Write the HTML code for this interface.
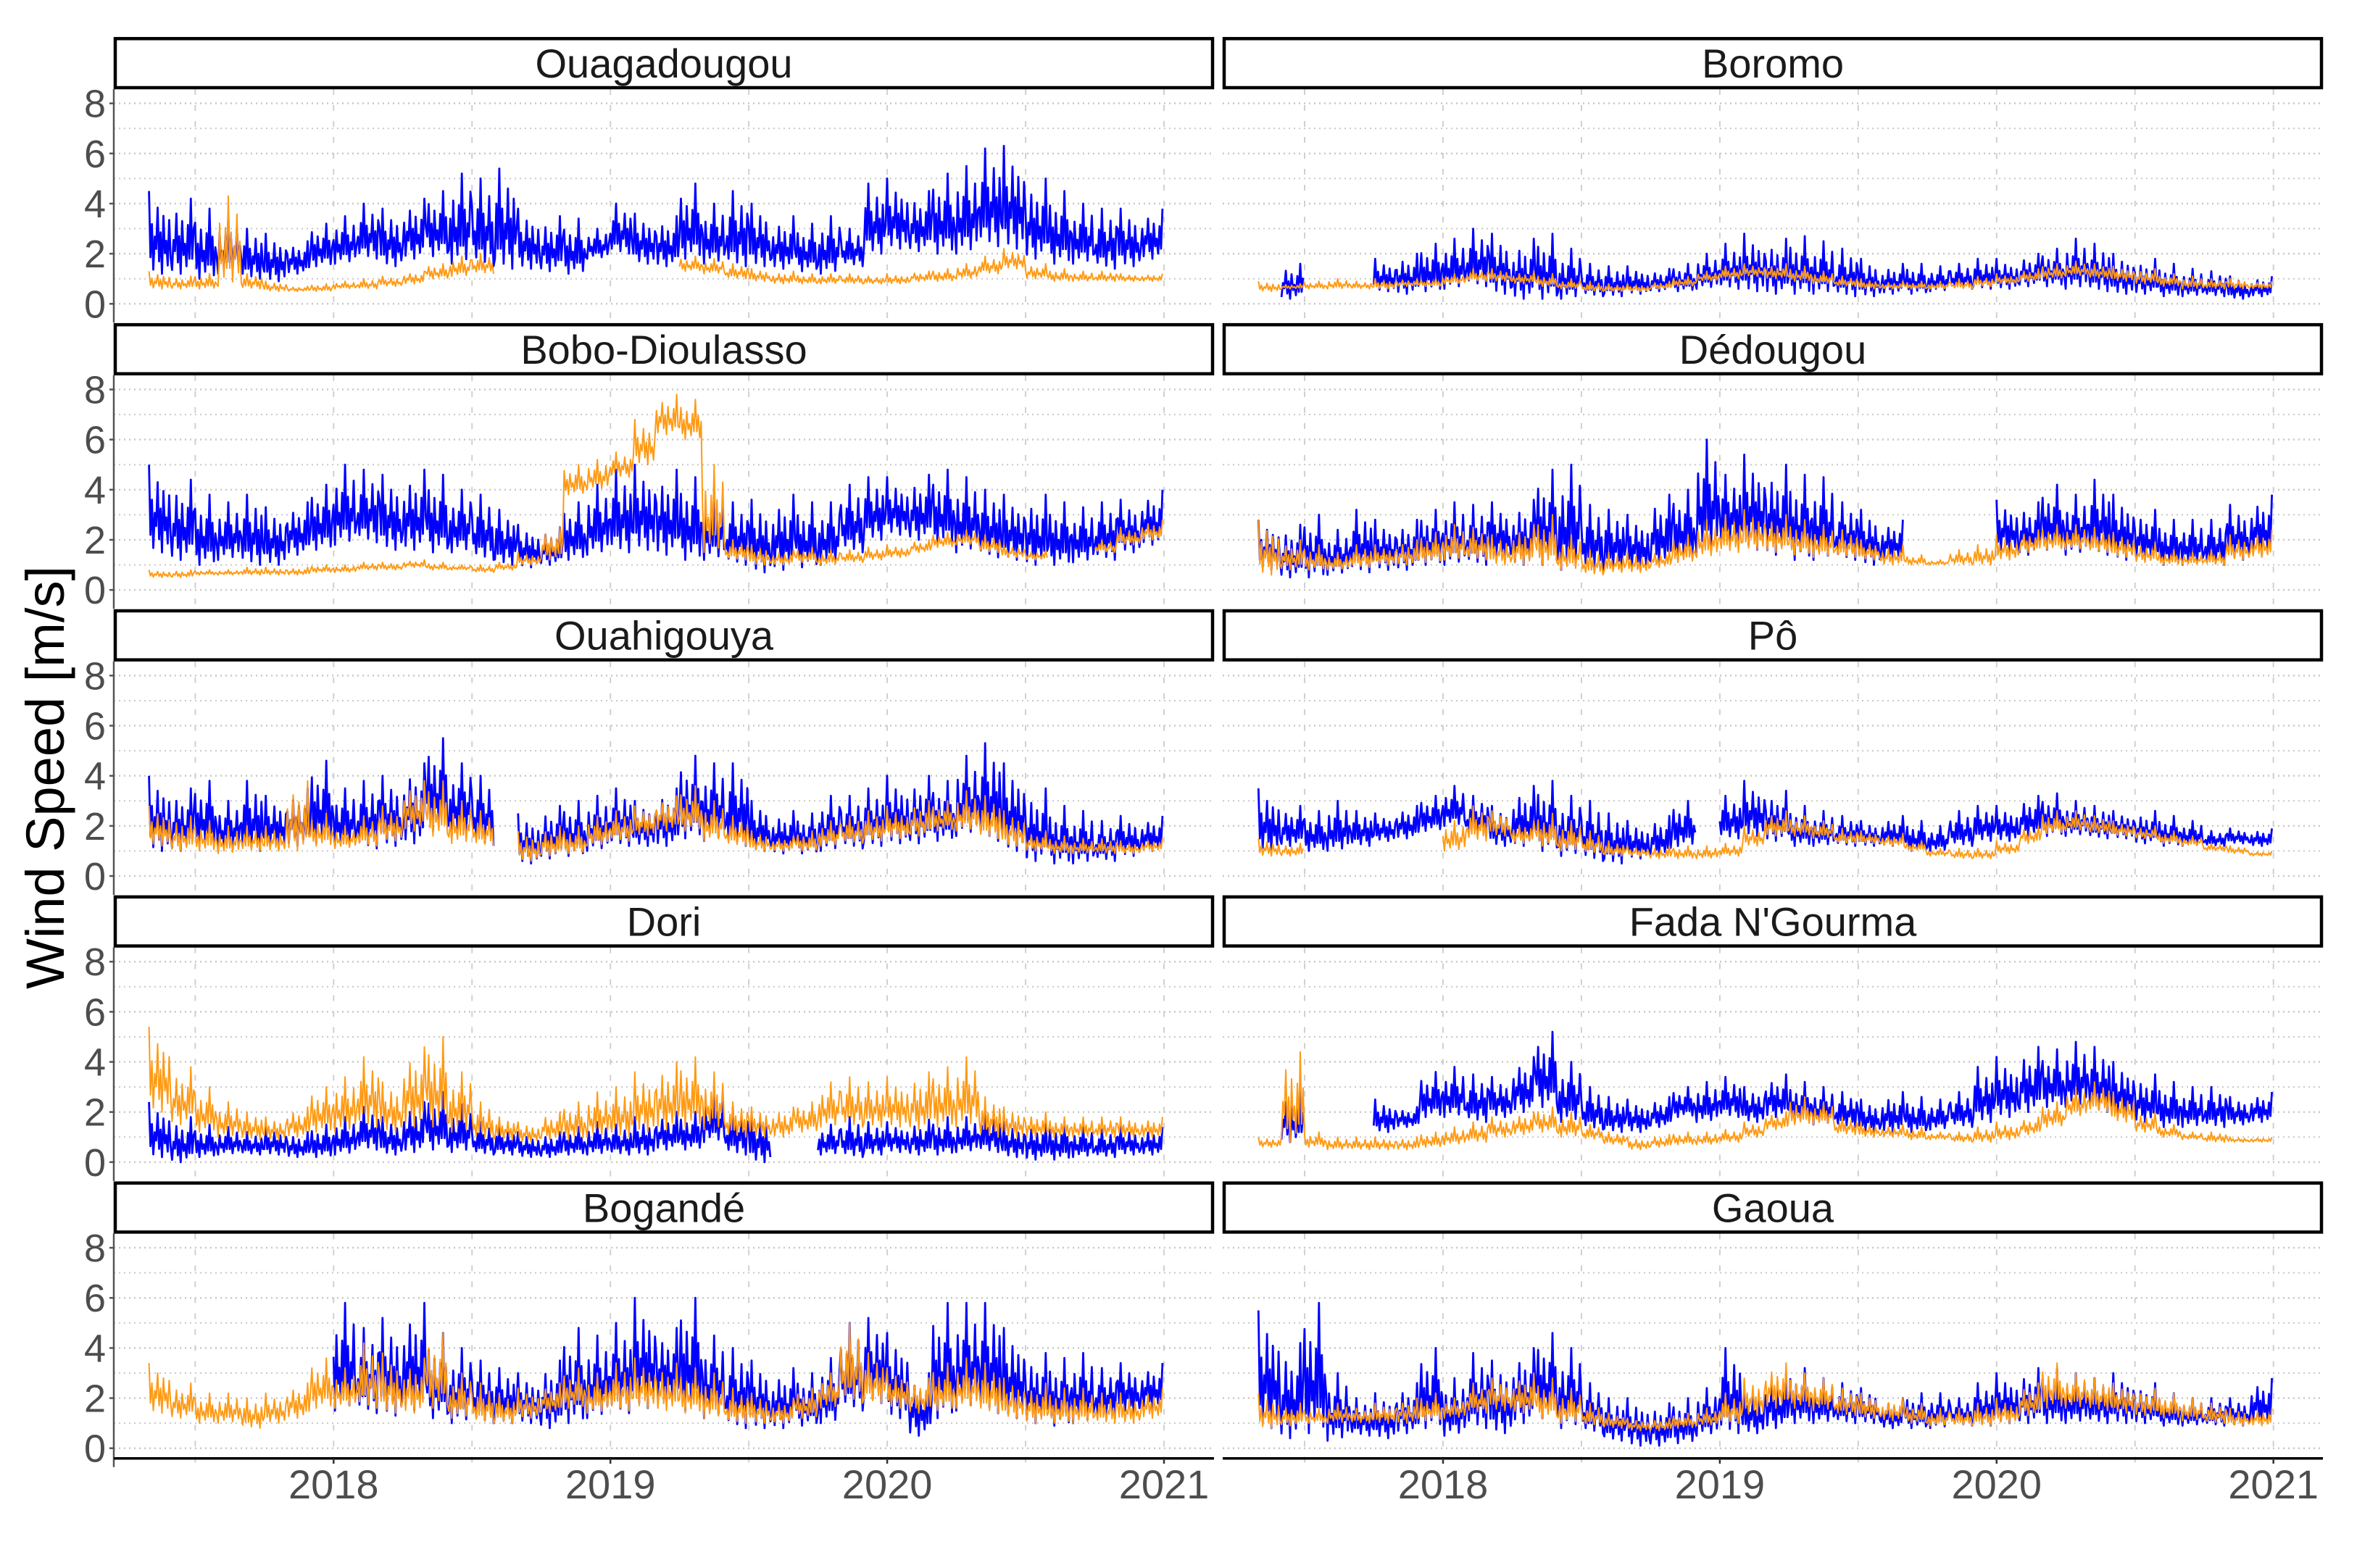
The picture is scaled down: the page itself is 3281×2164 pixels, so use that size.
<!DOCTYPE html>
<html><head><meta charset="utf-8"><style>
html,body{margin:0;padding:0;background:#fff;}
svg{display:block;font-family:"Liberation Sans",Arial,sans-serif;}
</style></head><body>
<svg id="chart" width="3281" height="2164" viewBox="0 0 3281 2164" xmlns="http://www.w3.org/2000/svg">
<rect width="3281" height="2164" fill="#fff"/>
<text x="0" y="0" transform="translate(88,1073) rotate(-90)" text-anchor="middle" font-size="74" fill="#000">Wind Speed [m/s]</text>
<g id="panels"></g>
</svg>
<script>
const stations = ["Ouagadougou","Boromo","Bobo-Dioulasso","Dédougou","Ouahigouya","Pô","Dori","Fada N'Gourma","Bogandé","Gaoua"];
const yTicks = [0,2,4,6,8];
const xTickLabels = ["2018","2019","2020","2021"];
const xTickYears = [2018,2019,2020,2021];
const startYear = 2017.333;
const n=null;
const blueHi = [
[4.5,4.2,3.8,3.5,3.0,2.8,2.5, 3.2,3.5,4.0,3.8,4.2,4.5,5.2,5.0,5.4,3.8,3.5,3.4, 3.0,4.0,3.6,3.5,4.8,4.0,4.5,4.0,3.5,3.2,3.5,3.0, 4.8,5.0,4.5,5.2,5.5,6.2,6.3,5.0,4.5,4.0,3.8,3.8,3.8],
[n,1.6,n,n,n,1.8,2.0, 2.4,2.6,3.0,2.8,2.6,2.8,2.2,1.6,1.5,1.5,1.4,1.6, 2.0,2.4,2.8,2.6,2.7,2.5,2.2,1.8,1.6,1.6,1.5,1.6, 1.8,1.8,2.0,2.2,2.6,2.4,2.0,1.8,1.6,1.4,1.3,1.1,1.1],
[5.0,4.4,3.8,3.5,3.8,3.3,3.5, 4.2,5.0,4.8,4.6,4.8,4.6,4.0,3.8,3.2,2.6,2.5,3.5, 4.2,4.8,5.0,4.8,4.5,4.0,3.5,3.6,3.8,3.5,3.5,4.2, 4.5,4.5,4.6,4.8,4.5,4.0,3.8,3.8,3.5,3.3,3.5,3.6,4.0],
[2.8,2.6,3.0,2.4,3.2,2.8,2.8, 3.2,3.5,3.4,3.5,3.6,4.8,5.0,3.4,3.2,3.0,3.8,4.0, 6.0,4.6,5.4,5.0,4.6,4.5,3.5,3.2,2.8,n,n,n, n,3.6,3.5,4.2,3.8,4.4,3.8,3.2,2.8,2.8,2.8,3.4,3.8],
[4.0,3.5,3.8,3.0,3.8,3.2,3.5, 4.6,3.5,3.8,4.0,4.5,5.5,4.5,4.0,n,2.5,2.8,3.0, 3.2,3.5,3.0,3.5,4.8,4.5,4.5,3.0,2.6,2.5,3.2,3.2, 3.5,4.0,4.0,3.8,4.8,5.3,4.5,3.5,2.8,2.6,2.2,2.4,2.4],
[3.5,2.8,2.6,3.0,2.6,2.5,2.8, 3.2,3.6,3.2,2.8,3.6,3.8,3.2,3.0,2.5,2.2,2.4,3.0, n,3.2,3.8,3.4,2.8,2.6,2.4,2.2,2.4,2.2,2.0,2.6, 2.8,2.8,3.2,3.3,3.0,2.8,2.6,2.6,2.4,2.2,1.8,1.9,1.9],
[2.4,1.8,1.5,1.4,1.2,1.4,1.2, 1.5,1.8,2.2,1.8,2.4,2.8,2.3,1.6,1.4,1.2,1.2,1.4, 1.6,1.5,1.8,2.0,2.0,2.8,2.2,2.0,n,n,1.5,1.8, 1.6,1.6,1.7,1.8,1.8,2.0,1.6,1.6,1.6,1.4,1.3,1.4,1.4],
[n,2.8,n,n,n,2.5,2.2, 3.6,3.8,3.5,3.4,4.2,5.2,4.0,3.0,2.6,2.5,2.6,3.0, 3.2,3.4,3.0,3.5,3.2,3.0,2.8,2.5,2.8,2.6,2.5,2.8, 3.8,4.2,4.6,4.5,4.8,4.6,4.0,3.5,3.2,3.0,3.0,2.6,2.8],
[n,n,n,n,n,n,n, n,5.8,4.8,5.2,5.8,4.6,4.0,3.5,3.2,3.0,3.5,4.8, 4.5,5.0,6.0,4.8,6.0,4.5,4.0,3.5,3.2,3.0,3.6,5.0, 5.2,4.6,3.0,5.8,5.8,5.8,4.8,3.8,3.6,3.8,3.2,3.4,3.4],
[5.5,4.2,5.8,3.0,2.0,2.2,2.6, 4.0,2.8,3.8,3.5,4.0,4.6,4.0,2.6,2.0,2.0,1.8,2.0, 2.4,4.0,2.4,3.0,3.2,2.8,2.6,2.4,2.0,2.2,2.2,2.0, 2.6,3.0,3.2,3.2,3.0,2.8,3.0,2.6,2.2,2.0,2.0,2.0,2.8]
];
const blueLo = [
[1.2,1.2,1.0,1.2,1.0,0.9,1.2, 1.5,1.6,1.8,1.5,1.8,1.9,1.6,1.5,1.4,1.4,1.3,1.2, 1.8,2.0,1.6,1.5,1.8,1.6,1.5,1.5,1.4,1.3,1.2,1.5, 2.0,2.2,2.1,2.0,2.0,2.3,2.2,1.8,1.6,1.6,1.4,1.5,1.8],
[n,0.2,n,n,n,0.5,0.4, 0.5,0.6,0.7,0.4,0.2,0.2,0.2,0.3,0.3,0.4,0.5,0.5, 0.6,0.6,0.5,0.4,0.4,0.4,0.3,0.3,0.4,0.4,0.5,0.6, 0.6,0.6,0.7,0.7,0.6,0.5,0.4,0.4,0.3,0.3,0.3,0.2,0.3],
[1.5,1.2,1.0,1.2,1.0,1.0,1.4, 1.6,1.8,1.9,1.6,1.6,1.5,1.5,1.2,1.0,0.9,1.0,1.2, 1.4,1.5,1.6,1.4,1.2,1.2,1.0,0.7,0.8,0.9,1.0,1.5, 2.0,2.2,2.0,1.8,1.5,1.3,1.2,1.0,1.0,1.1,1.2,1.5,1.8],
[0.8,0.5,0.5,0.6,0.7,0.8,0.8, 1.0,1.0,1.0,1.2,1.0,1.0,0.8,0.8,0.8,0.8,1.0,1.2, 1.5,1.8,1.6,1.4,1.2,1.2,1.2,1.0,1.2,n,n,n, n,1.5,1.4,1.6,1.4,1.4,1.2,1.2,1.0,1.0,1.0,1.2,1.4],
[1.0,1.0,1.2,1.0,1.0,1.1,1.2, 1.3,1.2,1.1,1.2,1.3,1.8,1.6,1.2,n,0.5,0.7,0.8, 1.0,1.2,1.2,1.2,1.5,1.4,1.2,1.0,0.9,0.9,1.0,1.1, 1.2,1.3,1.3,1.4,1.6,1.4,1.0,0.6,0.5,0.5,0.6,0.8,1.0],
[1.0,1.2,1.0,1.0,1.2,1.4,1.5, 1.8,2.0,1.6,1.2,1.2,1.0,0.8,0.6,0.5,0.7,0.8,1.2, n,1.5,1.6,1.4,1.2,1.2,1.2,1.2,1.2,1.0,1.0,1.2, 1.4,1.4,1.6,1.6,1.6,1.5,1.5,1.3,1.2,1.2,1.2,1.3,1.2],
[0.2,0.0,0.2,0.3,0.3,0.3,0.2, 0.2,0.3,0.5,0.3,0.4,0.5,0.4,0.3,0.3,0.2,0.2,0.3, 0.3,0.3,0.3,0.5,0.5,0.8,0.3,0.0,n,n,0.3,0.2, 0.3,0.4,0.3,0.3,0.4,0.4,0.2,0.1,0.1,0.2,0.2,0.3,0.3],
[n,0.8,n,n,n,1.2,1.4, 1.8,1.8,1.6,1.8,2.0,2.2,1.6,1.3,1.2,1.2,1.4,1.8, 1.6,1.8,1.6,1.8,1.6,1.5,1.4,1.2,1.2,1.2,1.3,1.4, 1.6,1.8,2.0,2.2,2.2,2.0,1.8,1.6,1.4,1.4,1.4,1.5,1.6],
[n,n,n,n,n,n,n, n,1.5,1.4,1.3,1.5,1.2,1.0,1.0,1.0,1.0,0.8,1.0, 1.2,1.4,1.6,1.8,1.5,1.2,0.8,0.8,0.8,0.9,1.0,1.5, 1.8,1.2,0.5,1.2,1.5,1.4,1.2,1.0,0.9,1.0,1.2,1.4,1.6],
[0.8,0.4,0.6,0.3,0.5,0.4,0.6, 0.8,0.5,0.8,0.6,1.0,1.2,0.8,0.6,0.3,0.1,0.1,0.2, 0.5,0.6,0.6,0.8,1.0,1.0,1.0,1.0,0.8,0.8,0.8,0.9, 0.9,1.0,1.0,1.0,1.0,1.0,1.0,1.0,0.9,0.9,0.9,0.9,1.0]
];
const orangeHi = [
[1.3,1.1,1.2,4.3,1.2,0.9,0.7, 0.8,0.9,1.0,1.1,1.3,1.6,1.9,2.0,n,n,n,n, n,n,n,n,1.9,1.8,1.6,1.4,1.3,1.2,1.2,1.2, 1.1,1.2,1.3,1.4,1.6,1.9,2.2,1.6,1.4,1.3,1.3,1.2,1.2],
[0.9,0.8,0.9,1.0,0.9,1.0,1.0, 1.0,1.2,1.4,1.4,1.3,1.2,1.0,0.9,0.8,0.8,0.9,1.1, 1.3,1.5,1.6,1.6,1.5,1.3,1.1,1.0,0.9,0.9,0.9,1.0, 1.1,1.2,1.4,1.6,1.7,1.6,1.5,1.4,1.2,1.1,1.0,1.0,0.9],
[0.8,0.8,0.8,0.8,0.9,0.9,0.9, 1.0,1.0,1.1,1.1,1.2,1.1,1.0,1.0,1.1,1.5,2.5,5.0, 5.2,5.5,6.8,7.8,7.6,5.0,2.0,1.8,1.6,1.7,1.6,1.6, 1.7,1.8,2.0,2.3,2.4,2.2,1.8,1.6,n,n,2.0,2.5,2.8],
[2.8,2.0,1.8,1.5,1.8,1.8,2.0, 2.3,2.6,2.5,2.2,2.6,3.0,2.2,1.6,1.5,1.5,1.6,2.2, 2.8,3.0,3.2,3.0,2.8,2.6,2.4,2.0,1.8,1.4,1.2,1.6, 1.8,2.2,2.4,2.6,2.6,2.5,2.3,1.9,1.6,1.5,1.6,2.2,2.4],
[2.8,2.4,2.2,2.0,2.0,2.0,3.8, 2.5,2.0,2.4,2.8,3.8,3.8,3.0,2.6,n,1.8,2.0,2.0, 2.4,2.6,2.8,3.2,3.6,3.0,2.4,1.8,1.6,1.8,2.2,2.4, 2.6,2.8,3.0,3.0,3.4,3.2,2.6,1.8,1.6,1.5,1.5,1.4,1.5],
[1.5,1.3,n,n,n,n,n, n,2.2,2.8,2.6,2.2,2.5,2.2,1.8,1.4,1.2,1.2,1.2, 1.2,1.3,2.0,2.6,2.4,2.2,1.9,1.8,1.7,1.4,1.1,1.1, 1.1,1.4,2.0,2.6,2.6,2.4,2.2,2.0,1.8,1.6,1.3,1.2,1.0],
[5.4,3.8,3.0,2.4,2.0,1.8,2.2, 3.0,3.4,4.2,3.2,4.6,5.0,3.6,2.4,1.8,1.6,2.0,2.4, 2.8,3.0,3.6,4.0,4.2,3.6,2.4,2.2,2.2,2.4,3.2,3.4, 3.2,3.4,3.6,3.8,4.2,2.6,2.2,2.0,1.8,1.8,1.8,1.8,1.8],
[1.0,4.4,1.2,1.0,1.0,1.0,1.0, 1.2,1.4,1.6,1.8,2.0,2.2,2.0,1.5,1.2,1.0,1.1,1.2, 1.2,1.3,1.6,2.0,2.6,2.4,1.8,1.6,1.5,1.4,1.2,1.2, 1.4,1.6,1.8,2.4,3.0,3.2,2.8,2.0,1.5,1.2,1.2,1.0,1.0],
[3.4,2.6,2.2,2.2,2.0,2.2,2.6, 3.6,3.2,4.2,3.8,3.6,4.6,3.0,2.6,2.2,2.4,2.6,3.2, 3.0,3.4,3.6,3.4,3.2,3.0,2.4,2.2,2.0,2.4,3.0,5.0, 3.8,3.2,2.8,3.4,3.6,3.4,2.8,2.6,2.4,2.4,2.2,2.2,2.4],
[2.2,1.8,1.6,1.8,1.6,1.8,2.0, 2.2,2.0,2.6,2.8,3.0,2.8,2.4,1.8,1.4,1.2,1.2,1.4, 1.6,2.2,2.8,3.4,3.0,2.8,2.4,2.2,2.0,1.8,1.6,1.6, 1.8,2.0,2.6,3.4,3.0,2.8,2.6,2.4,2.2,2.0,1.8,1.6,1.6]
];
const orangeLo = [
[0.6,0.6,0.6,0.7,0.6,0.5,0.5, 0.5,0.6,0.6,0.7,0.8,1.0,1.1,1.2,n,n,n,n, n,n,n,n,1.3,1.2,1.0,0.9,0.8,0.8,0.8,0.8, 0.8,0.8,0.9,0.9,1.0,1.2,1.4,1.0,0.9,0.9,0.9,0.9,0.9],
[0.5,0.6,0.6,0.6,0.6,0.6,0.7, 0.7,0.8,0.9,0.9,0.8,0.7,0.6,0.5,0.5,0.5,0.6,0.7, 0.9,1.0,1.1,1.0,0.9,0.8,0.7,0.6,0.6,0.6,0.6,0.6, 0.7,0.8,0.9,1.0,1.1,1.0,0.9,0.8,0.7,0.6,0.6,0.6,0.6],
[0.5,0.5,0.6,0.6,0.6,0.6,0.6, 0.7,0.7,0.8,0.8,0.9,0.8,0.8,0.7,0.8,1.0,1.2,3.8, 4.0,4.5,5.0,6.2,6.0,1.5,1.2,1.0,1.0,1.1,1.0,1.1, 1.2,1.3,1.5,1.7,1.8,1.5,1.3,1.2,n,n,1.5,1.8,2.0],
[0.6,0.8,0.8,0.8,0.9,1.0,1.0, 1.1,1.2,1.2,1.0,1.0,1.0,0.8,0.6,0.7,0.7,0.9,1.1, 1.3,1.5,1.6,1.5,1.4,1.3,1.3,1.2,1.0,1.0,1.0,1.0, 1.0,1.2,1.5,1.6,1.6,1.5,1.3,1.1,1.0,1.0,1.0,1.2,1.3],
[1.2,1.0,1.0,0.9,1.0,1.0,1.0, 1.2,1.1,1.2,1.4,1.8,1.6,1.3,1.2,n,0.6,0.8,0.9, 1.2,1.4,1.6,1.8,1.8,1.4,1.2,1.0,1.0,1.0,1.2,1.3, 1.4,1.5,1.6,1.8,1.8,1.5,1.2,1.0,0.9,0.9,0.9,0.9,1.0],
[0.8,0.8,n,n,n,n,n, n,1.0,1.4,1.6,1.3,1.2,1.0,0.9,0.8,0.8,0.7,0.7, 0.7,0.8,1.2,1.6,1.6,1.5,1.3,1.3,1.2,1.0,0.8,0.7, 0.7,0.9,1.3,1.7,1.8,1.7,1.6,1.5,1.3,1.2,1.0,0.9,0.8],
[2.0,1.5,1.2,1.0,0.9,0.9,1.0, 1.2,1.2,1.4,1.2,1.4,1.4,1.2,0.9,0.9,0.8,0.9,0.9, 1.0,1.0,1.2,1.3,1.4,1.3,1.0,1.0,1.0,1.2,1.4,1.4, 1.4,1.4,1.3,1.4,1.4,1.0,1.0,1.0,1.0,1.0,1.0,1.0,1.0],
[0.6,0.8,0.6,0.5,0.5,0.5,0.5, 0.6,0.7,0.8,1.0,1.1,1.2,1.0,0.9,0.7,0.5,0.6,0.7, 0.7,0.8,1.0,1.3,1.5,1.5,1.1,1.0,1.0,0.9,0.9,0.8, 0.8,0.9,1.1,1.4,1.8,2.0,1.6,1.2,1.0,0.9,0.8,0.8,0.8],
[1.4,1.2,1.0,1.0,0.8,1.0,1.2, 1.6,1.6,1.6,1.4,1.4,1.6,1.2,1.0,1.0,1.2,1.4,1.6, 1.4,1.5,1.6,1.5,1.4,1.2,1.0,1.0,1.0,1.2,1.6,1.8, 1.8,1.6,1.4,1.5,1.6,1.4,1.2,1.0,1.0,1.0,1.0,1.0,1.2],
[0.8,0.9,1.0,1.0,1.0,1.0,1.0, 1.1,1.2,1.4,1.5,1.4,1.2,1.0,0.9,0.8,0.7,0.7,0.8, 0.9,1.0,1.3,1.6,1.6,1.5,1.3,1.2,1.1,1.0,0.9,0.9, 0.9,1.0,1.3,1.6,1.6,1.5,1.4,1.3,1.2,1.1,1.0,0.9,0.9]
];

const NS="http://www.w3.org/2000/svg";
const root=document.getElementById('panels');
const ROW0=419.3, ROWSTEP=394.85, UNIT=34.58;
const PX0=[157,1687], PW=1518, YEAR_X0=[1606,3136.7], PERYEAR=381.9;
function xScale(col,yr){return YEAR_X0[col]+(yr-2021)*PERYEAR;}
function yScale(row,v){return ROW0+row*ROWSTEP-v*UNIT;}
function mk(tag,attrs,parent){const e=document.createElementNS(NS,tag);for(const k in attrs)e.setAttribute(k,attrs[k]);parent.appendChild(e);return e;}
const fr=[1,0.2,0.6,0.05,0.45,0.3,0.8,0.15,0.5,0,0.7,0.25,0.4,0.1,0.65,0.2];
function seriesPath(row,col,hi,lo){
  let d="",pen=false;
  for(let i=0;i<hi.length;i++){
    if(hi[i]===null||lo[i]===null){pen=false;continue;}
    const t0=startYear+i/12;
    for(let k=0;k<fr.length;k++){
      const t=t0+k/(fr.length*12);
      const v=lo[i]+fr[(k+i*3)%fr.length]*(hi[i]-lo[i]);
      d+=(pen?"L":"M")+xScale(col,t).toFixed(1)+" "+yScale(row,v).toFixed(1);
      pen=true;
    }
  }
  return d;
}
stations.forEach((name,s)=>{
  const row=Math.floor(s/2), col=s%2;
  const g=mk('g',{},root);
  
  
  const x0=PX0[col], x1=x0+PW;
  for(let v=0;v<=8;v++){
    const l=mk('line',{x1:x0,x2:x1,y1:yScale(row,v),y2:yScale(row,v),stroke:'#c8c8c8','stroke-width':v%2?2:2.5,'stroke-dasharray':'2 5'},g);
    
    
  }
  for(let yr=2017.5;yr<=2021.01;yr+=0.5){
    const l=mk('line',{x1:xScale(col,yr),x2:xScale(col,yr),y1:123+row*ROWSTEP,y2:ROW0+row*ROWSTEP+26,stroke:'#d0d0d0','stroke-width':2,'stroke-dasharray':'8 14'},g);
    
    
  }
  const st=mk('rect',{x:x0+2,y:53.3+row*ROWSTEP,width:PW-4,height:67.7,fill:'#fff',stroke:'#000','stroke-width':4.5},g);
  
  
  const tt=mk('text',{x:x0+PW/2,y:107+row*ROWSTEP,'text-anchor':'middle','font-size':56,fill:'#1a1a1a'},g);
  tt.textContent=name;
  
  
  const bp=mk('path',{d:seriesPath(row,col,blueHi[s],blueLo[s]),fill:'none',stroke:'#0000ff','stroke-width':2.8,'stroke-linejoin':'round'},g);
  
  
  const op=mk('path',{d:seriesPath(row,col,orangeHi[s],orangeLo[s]),fill:'none',stroke:'#ff9a14','stroke-width':2,'stroke-linejoin':'round'},g);
  
  
  if(col===0){
    const ax=mk('line',{x1:157,x2:157,y1:123+row*ROWSTEP,y2:ROW0+row*ROWSTEP+26,stroke:'#555','stroke-width':2.5},g);
    
    
    yTicks.forEach(v=>{
      const tk=mk('line',{x1:151,x2:157,y1:yScale(row,v),y2:yScale(row,v),stroke:'#555','stroke-width':2.5},g);
      
      
      const tl=mk('text',{x:146,y:yScale(row,v)+19,'text-anchor':'end','font-size':54,fill:'#4d4d4d'},g);
      tl.textContent=String(v);
      
      
    });
  }
  if(row===4){
    const ax=mk('line',{x1:x0,x2:x1,y1:2012.7,y2:2012.7,stroke:'#000','stroke-width':3.5},g);
    
    
    xTickYears.forEach((yr,j)=>{
      const tk=mk('line',{x1:xScale(col,yr),x2:xScale(col,yr),y1:2012.7,y2:2020,stroke:'#333','stroke-width':2.5},g);
      
      
      const tl=mk('text',{x:xScale(col,yr),y:2068,'text-anchor':'middle','font-size':56,fill:'#4d4d4d'},g);
      tl.textContent=xTickLabels[j];
      
      
    });
  }
});
</script>
</body></html>
